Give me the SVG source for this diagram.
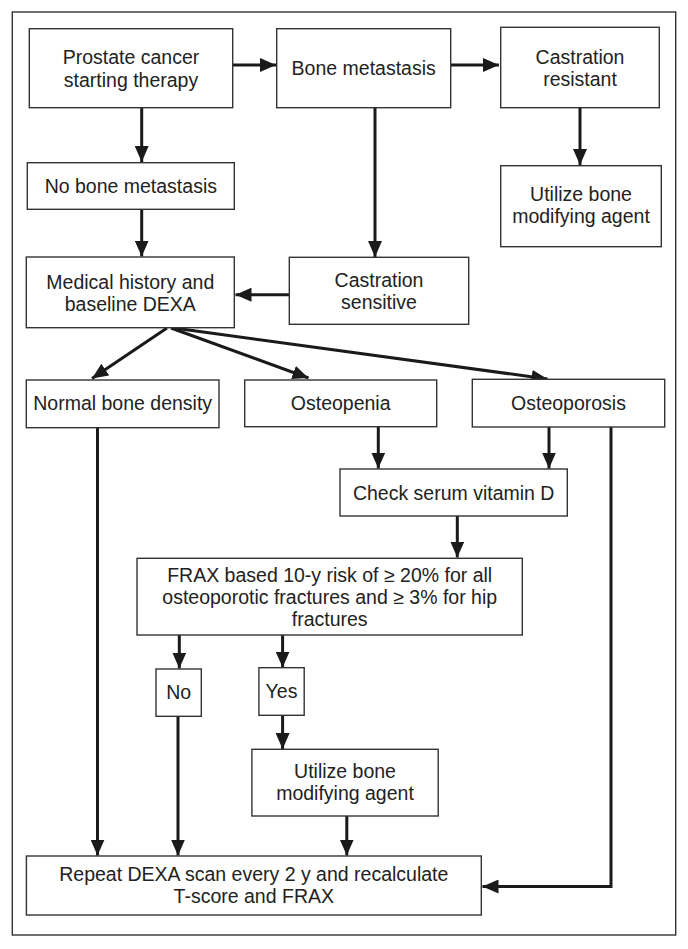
<svg xmlns="http://www.w3.org/2000/svg" width="688" height="949" viewBox="0 0 688 949">
<style>
.box{fill:#fff;stroke:#333;stroke-width:1.4}
.t{font-family:"Liberation Sans",Arial,sans-serif;font-size:19.5px;fill:#222;text-anchor:middle}
.c{fill:none;stroke:#1a1a1a;stroke-width:3}
</style>
<defs>
<marker id="ah" markerUnits="userSpaceOnUse" markerWidth="18" markerHeight="14" refX="16" refY="7" orient="auto">
<path d="M0,0 L16,7 L0,14 z" fill="#1a1a1a"/>
</marker>
</defs>
<rect x="12.3" y="12" width="663.4" height="923" fill="#fff" stroke="#333" stroke-width="1.4"/>
<g id="connectors">
<line class="c" x1="232.7" y1="65" x2="276" y2="65" marker-end="url(#ah)"/>
<line class="c" x1="450.7" y1="65" x2="499" y2="65" marker-end="url(#ah)"/>
<line class="c" x1="580" y1="107.7" x2="580" y2="165" marker-end="url(#ah)"/>
<line class="c" x1="375" y1="107.7" x2="375" y2="257" marker-end="url(#ah)"/>
<line class="c" x1="289.3" y1="294.7" x2="235.5" y2="294.7" marker-end="url(#ah)"/>
<line class="c" x1="141.7" y1="107.7" x2="141.7" y2="162" marker-end="url(#ah)"/>
<line class="c" x1="141.7" y1="209.3" x2="141.7" y2="256.5" marker-end="url(#ah)"/>
<line class="c" x1="167" y1="328" x2="92" y2="378.5" marker-end="url(#ah)"/>
<line class="c" x1="171" y1="328" x2="308.5" y2="378" marker-end="url(#ah)"/>
<line class="c" x1="174" y1="328" x2="547.5" y2="379" marker-end="url(#ah)"/>
<line class="c" x1="378.3" y1="427" x2="378.3" y2="468.5" marker-end="url(#ah)"/>
<line class="c" x1="549" y1="427" x2="549" y2="468.5" marker-end="url(#ah)"/>
<line class="c" x1="457.3" y1="516" x2="457.3" y2="557.5" marker-end="url(#ah)"/>
<line class="c" x1="179.3" y1="635" x2="179.3" y2="668.5" marker-end="url(#ah)"/>
<line class="c" x1="282.6" y1="635" x2="282.6" y2="667.5" marker-end="url(#ah)"/>
<line class="c" x1="282.6" y1="715.3" x2="282.6" y2="749" marker-end="url(#ah)"/>
<line class="c" x1="346.8" y1="816" x2="346.8" y2="855.5" marker-end="url(#ah)"/>
<line class="c" x1="178" y1="716.3" x2="178" y2="855.5" marker-end="url(#ah)"/>
<line class="c" x1="97.5" y1="427.7" x2="97.5" y2="855.5" marker-end="url(#ah)"/>
<polyline class="c" points="611,427 611,886.5 482.5,886.5" marker-end="url(#ah)"/>
</g>
<g id="prostate"><rect class="box" x="29.3" y="28.7" width="203.4" height="79"/><text class="t" x="131" y="64">Prostate cancer</text><text class="t" x="131" y="87">starting therapy</text></g>
<g id="bonemet"><rect class="box" x="276.7" y="28.7" width="174" height="79"/><text class="t" x="363.7" y="75">Bone metastasis</text></g>
<g id="castres"><rect class="box" x="500.7" y="27.3" width="158.6" height="80.4"/><text class="t" x="580" y="63.5">Castration</text><text class="t" x="580" y="85.5">resistant</text></g>
<g id="utilize1"><rect class="box" x="500.7" y="165.7" width="160.6" height="81"/><text class="t" x="581" y="201">Utilize bone</text><text class="t" x="581" y="223">modifying agent</text></g>
<g id="nobonemet"><rect class="box" x="27.3" y="162.7" width="207" height="46.6"/><text class="t" x="130.8" y="193">No bone metastasis</text></g>
<g id="medhist"><rect class="box" x="26.3" y="257" width="208" height="70.7"/><text class="t" x="130.3" y="288.5">Medical history and</text><text class="t" x="130.3" y="310.5">baseline DEXA</text></g>
<g id="castsens"><rect class="box" x="289.3" y="257.3" width="179.4" height="67"/><text class="t" x="379" y="286.5">Castration</text><text class="t" x="379" y="308.5">sensitive</text></g>
<g id="normal"><rect class="box" x="26.3" y="380" width="192.7" height="47.7"/><text class="t" x="122.7" y="410">Normal bone density</text></g>
<g id="osteopenia"><rect class="box" x="244.7" y="380" width="192" height="46.7"/><text class="t" x="340.7" y="410">Osteopenia</text></g>
<g id="osteoporosis"><rect class="box" x="472.3" y="379.3" width="192.4" height="47.7"/><text class="t" x="568.5" y="410">Osteoporosis</text></g>
<g id="vitd"><rect class="box" x="340" y="469" width="227.3" height="47"/><text class="t" x="453.7" y="499.5">Check serum vitamin D</text></g>
<g id="frax"><rect class="box" x="137" y="558.3" width="385.3" height="76.7"/><text class="t" x="329.7" y="582">FRAX based 10-y risk of ≥ 20% for all</text><text class="t" x="329.7" y="604">osteoporotic fractures and ≥ 3% for hip</text><text class="t" x="329.7" y="626">fractures</text></g>
<g id="no"><rect class="box" x="156" y="669" width="45.3" height="47.3"/><text class="t" x="178.7" y="699">No</text></g>
<g id="yes"><rect class="box" x="258.9" y="667.7" width="45.3" height="47.6"/><text class="t" x="281.5" y="698">Yes</text></g>
<g id="utilize2"><rect class="box" x="251.9" y="749.3" width="186.3" height="66.7"/><text class="t" x="345" y="778">Utilize bone</text><text class="t" x="345" y="800">modifying agent</text></g>
<g id="repeat"><rect class="box" x="26.4" y="856" width="454.9" height="59"/><text class="t" x="253.8" y="881">Repeat DEXA scan every 2 y and recalculate</text><text class="t" x="253.8" y="903">T-score and FRAX</text></g>
</svg>
